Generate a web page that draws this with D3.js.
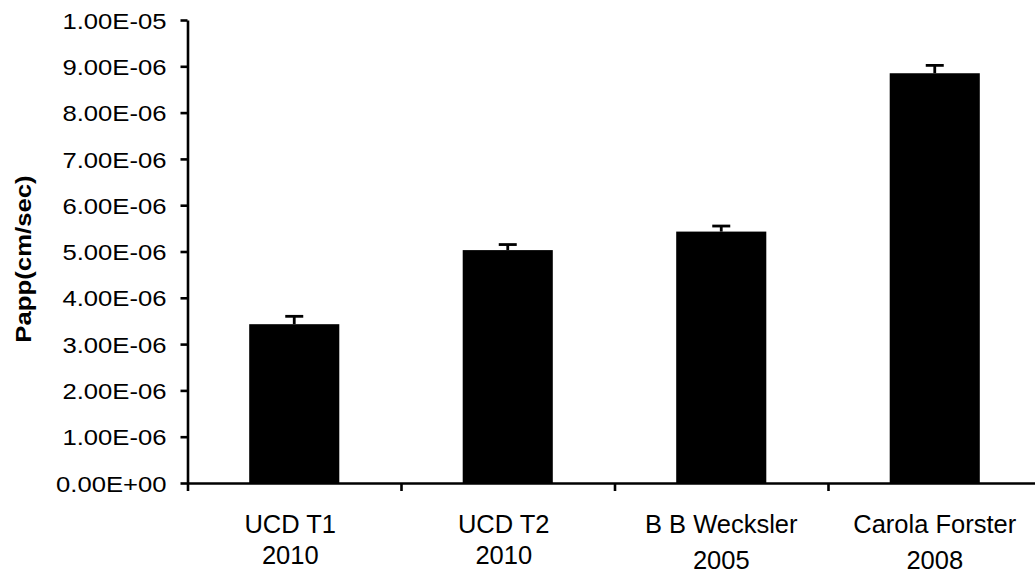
<!DOCTYPE html>
<html>
<head>
<meta charset="utf-8">
<script src="https://cdn.jsdelivr.net/npm/d3@7"></script>
<style>
  html, body { margin: 0; padding: 0; background: #fff; }
  svg { display: block; }
  text { font-family: "Liberation Sans", Arial, sans-serif; fill: #000; }
</style>
</head>
<body>
<svg id="chart" width="1035" height="576"></svg>
<script>
// ---- data ----
const categories = ["UCD T1", "UCD T2", "B B Wecksler", "Carola Forster"];
const years = ["2010", "2010", "2005", "2008"];
const values = [3.43e-6, 5.03e-6, 5.43e-6, 8.85e-6];
const errors = [0.17e-6, 0.12e-6, 0.12e-6, 0.17e-6];
const yTickValues = [0, 1e-6, 2e-6, 3e-6, 4e-6, 5e-6, 6e-6, 7e-6, 8e-6, 9e-6, 1e-5];
const yTickLabels = ["0.00E+00", "1.00E-06", "2.00E-06", "3.00E-06", "4.00E-06", "5.00E-06",
                     "6.00E-06", "7.00E-06", "8.00E-06", "9.00E-06", "1.00E-05"];
const yTitle = "Papp(cm/sec)";

// ---- layout ----
const svg = d3.select("#chart");
const mLeft = 187.5, mTop = 20, mBottom = 483, mRight = 1041.5;

const y = d3.scaleLinear().domain([0, 1e-5]).range([mBottom, mTop]);
const x = d3.scaleBand().domain(categories).range([mLeft, mRight]).paddingInner(0.578).paddingOuter(0.289);
const xEdge = d3.scaleLinear().domain([0, categories.length]).range([mLeft, mRight]);

// bars
svg.append("g").selectAll("rect").data(values).join("rect")
  .attr("x", (d, i) => x(categories[i]))
  .attr("width", x.bandwidth())
  .attr("y", d => y(d))
  .attr("height", d => y(0) - y(d))
  .attr("fill", "#000");

// error bars
const eb = svg.append("g").attr("stroke", "#000").attr("stroke-width", 2.8);
values.forEach((v, i) => {
  const cx = x(categories[i]) + x.bandwidth() / 2;
  eb.append("line").attr("x1", cx).attr("x2", cx).attr("y1", y(v)).attr("y2", y(v + errors[i]));
  eb.append("line").attr("x1", cx - 9).attr("x2", cx + 9).attr("y1", y(v + errors[i])).attr("y2", y(v + errors[i]));
});

// y axis
const yAxis = svg.append("g").attr("transform", `translate(${mLeft},0)`)
  .call(d3.axisLeft(y).tickValues(yTickValues).tickSize(7).tickSizeOuter(0)
        .tickFormat((d, i) => yTickLabels[i]));
yAxis.select(".domain").attr("stroke-width", 2.6);
yAxis.selectAll(".tick line").attr("stroke-width", 2.6);
yAxis.selectAll(".tick text")
  .attr("x", 0).attr("dy", "0.36em")
  .attr("transform", "translate(-21,0) scale(1.14,1)")
  .style("font-size", "22.5px");

// x axis (ticks at category boundaries)
const xAxis = svg.append("g").attr("transform", `translate(0,${mBottom})`)
  .call(d3.axisBottom(xEdge).tickValues(d3.range(categories.length + 1)).tickSize(8)
        .tickSizeOuter(0).tickFormat(""));
xAxis.select(".domain").attr("stroke-width", 2.6);
xAxis.selectAll(".tick line").attr("stroke-width", 2.6);

// x labels
const xl = svg.append("g");
categories.forEach((c, i) => {
  const cx = x(c) + x.bandwidth() / 2 - (i < 2 ? 4 : 0);
  xl.append("text").attr("x", cx).attr("y", 533).attr("text-anchor", "middle")
    .style("font-size", "25.5px").text(c);
  xl.append("text").attr("x", cx).attr("y", i < 2 ? 564 : 569).attr("text-anchor", "middle")
    .style("font-size", "25.5px").text(years[i]);
});

// y title
svg.append("text")
  .attr("transform", "translate(31,259) rotate(-90) scale(1.17,1)")
  .attr("text-anchor", "middle")
  .style("font-size", "22px").style("font-weight", "bold")
  .text(yTitle);
</script>
</body>
</html>
